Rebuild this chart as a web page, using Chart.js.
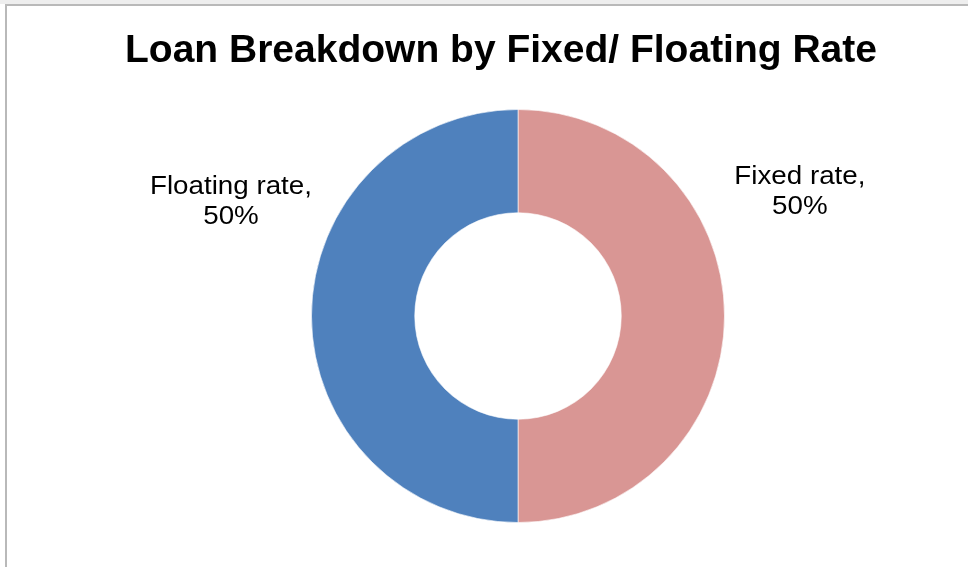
<!DOCTYPE html>
<html>
<head>
<meta charset="utf-8">
<title>Loan Breakdown by Fixed/ Floating Rate</title>
<script src="https://cdn.jsdelivr.net/npm/chart.js@4.4.1/dist/chart.umd.min.js"></script>
<style>
  html, body { margin: 0; padding: 0; background: #ffffff; overflow: hidden; }
  #top-strip { position: absolute; left: 0; top: 0; width: 968px; height: 4px; background: #eeeeee; }
  #frame {
    position: absolute; left: 5px; top: 4px; width: 1000px; height: 600px;
    border-top: 2px solid #b9b9b9; border-left: 2px solid #b9b9b9;
  }
  #chart { position: absolute; left: 0; top: 0; }
</style>
</head>
<body>
<div id="top-strip"></div>
<div id="frame"></div>
<canvas id="chart" width="968" height="567"></canvas>
<script>
const chartTitle = 'Loan Breakdown by Fixed/ Floating Rate';
const categories = ['Fixed rate', 'Floating rate'];
const shares = [50, 50];
const sliceColors = ['#D99694', '#4F81BD'];

// draws the title and the "name, value" labels next to each slice
const textPlugin = {
  id: 'textPlugin',
  afterDraw(chart) {
    const ctx = chart.ctx;
    ctx.save();
    ctx.fillStyle = '#000000';
    ctx.textAlign = 'center';
    ctx.textBaseline = 'alphabetic';
    ctx.font = 'bold 39px "Liberation Sans", Arial, sans-serif';
    ctx.fillText(chartTitle, 501, 62);

    const meta = chart.getDatasetMeta(0);
    ctx.font = '25px "Liberation Sans", Arial, sans-serif';
    meta.data.forEach(function(arc, i) {
      const mid = (arc.startAngle + arc.endAngle) / 2;
      const side = Math.cos(mid) >= 0 ? 1 : -1;
      const r = arc.outerRadius;
      const x = arc.x + side * r * (side > 0 ? 1.365 : 1.39);
      const y = arc.y - r * (side > 0 ? 0.637 : 0.59);
      // the source text is a little wider than plain Arial
      ctx.save();
      ctx.translate(x, y);
      ctx.scale(1.11, 1);
      ctx.fillText(categories[i] + ',', 0, 0);
      ctx.fillText(shares[i] + '%', 0, 30);
      ctx.restore();
    });
    ctx.restore();
  }
};

new Chart(document.getElementById('chart'), {
  type: 'doughnut',
  data: {
    labels: categories,
    datasets: [{
      data: shares,
      backgroundColor: sliceColors,
      borderColor: 'rgba(255,255,255,0.6)',
      borderWidth: 1
    }]
  },
  options: {
    responsive: false,
    animation: false,
    cutout: '50%',
    layout: { padding: { top: 109, bottom: 44, left: 202, right: 134 } },
    plugins: {
      legend: { display: false },
      title: { display: false },
      tooltip: { enabled: false }
    }
  },
  plugins: [textPlugin]
});
</script>
</body>
</html>
